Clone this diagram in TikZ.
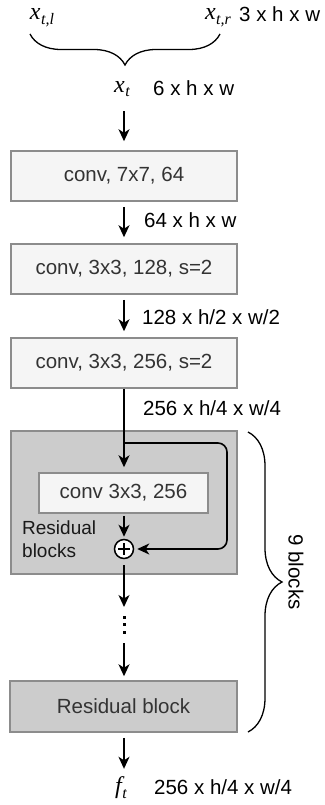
\documentclass[tikz,border=0pt]{standalone}
\usepackage{fontspec}
\setmainfont{Liberation Sans}
\newfontfamily\mathserif{Liberation Serif}
\newcommand{\mvar}[2]{{\mathserif\itshape #1\kern0.5pt\raisebox{-4.5pt}{\fontsize{16}{18}\selectfont #2}}}
\usetikzlibrary{arrows.meta,decorations.pathreplacing,calc}
\definecolor{boxline}{HTML}{8C8C8C}
\definecolor{lightfill}{HTML}{F5F5F5}
\definecolor{resfill}{HTML}{CCCCCC}
\definecolor{boxtext}{HTML}{333333}
\begin{document}
\begin{tikzpicture}[x=1pt,y=-1pt,
  every node/.style={font=\fontsize{20.5}{24}\selectfont, inner sep=0pt},
  box/.style={draw=boxline, line width=1.5pt, fill=lightfill, text=boxtext,
    minimum width=226pt, minimum height=50pt, inner sep=0pt},
  arr/.style={line width=1.6pt, -{Stealth[length=12pt,width=11pt,inset=3.5pt]}},
  lbl/.style={anchor=west, text=black},
  mth/.style={font=\fontsize{24}{26}\selectfont},
  bracedown/.style={decorate, line width=1.3pt, decoration={brace, mirror, amplitude=31pt}},
  braceright/.style={decorate, line width=1.3pt, decoration={brace, amplitude=34pt}}
]
\useasboundingbox (0,0) rectangle (324,805);

% inputs
\node[mth, anchor=base] (xl) at (42,20) {\mvar{x}{t,l}};
\node[mth, anchor=base] (xr) at (218,20) {\mvar{x}{t,r}};
\node[anchor=base west] (dim0) at (239,21.5) {3 x h x w};
\coordinate (bl) at (30,34);
\coordinate (br) at (220,34);
\draw[bracedown] (bl) -- (br);

\node[mth] (xt) at (122,89) {\mvar{x}{t}};
\node[lbl] (dim1) at (153,88) {6 x h x w};

% conv boxes
\node[box] (c1) at (124,176) {conv, 7x7, 64};
\node[box] (c2) at (124,269) {conv, 3x3, 128, s=2};
\node[box] (c3) at (124,363) {conv, 3x3, 256, s=2};
\node[lbl] (dim2) at (144,220) {64 x h x w};
\node[lbl] (dim3) at (142,317) {128 x h/2 x w/2};
\node[lbl] (dim4) at (143,408) {256 x h/4 x w/4};

% residual block
\node[box, fill=resfill, minimum height=143pt] (res) at (124,502.5) {};
\node[box, minimum width=169pt, minimum height=40pt] (inner) at (123.5,493) {conv 3x3, 256};
\node[circle, draw, line width=1.5pt, fill=white, minimum size=19pt] (plus) at (124,549) {};
\draw[line width=1.5pt] ($(plus.center)+(-6,0)$) -- ($(plus.center)+(6,0)$);
\draw[line width=1.5pt] ($(plus.center)+(0,-6)$) -- ($(plus.center)+(0,6)$);
\node[anchor=north west, align=left, text=black!90, font=\fontsize{19}{23}\selectfont] (rl) at (22,521) {Residual\\blocks};

% dots
\foreach \yy in {617,624.5,632} \fill (122.5,\yy-1.5) rectangle ++(3,3);
\coordinate (dtop) at (124,607);
\coordinate (dbot) at (124,643);

\node[box, fill=resfill, minimum width=227pt, minimum height=51pt] (rb) at (123.5,706.5) {Residual block};
\node[mth] (ft) at (121,788) {\mvar{f}{t}};
\node[lbl] (dim5) at (154,787) {256 x h/4 x w/4};

% right brace
\coordinate (rbt) at (248,432);
\coordinate (rbb) at (248,732);
\draw[braceright] (rbt) -- (rbb);
\node[rotate=-90] (nb) at (296,572) {9 blocks};

% arrows
\draw[arr, shorten <=14pt, shorten >=9pt] (xt.south -| c1.north) -- (c1.north);
\draw[arr, shorten <=5pt, shorten >=6pt] (c1.south) -- (c2.north);
\draw[arr, shorten <=5pt, shorten >=6pt] (c2.south) -- (c3.north);
\draw[arr, shorten >=5pt] (c3.south) -- (inner.north -| c3.south);
\coordinate (sk) at (124,443);
\coordinate (skr) at (227,443);
\draw[arr, rounded corners=9pt, shorten >=3pt] (sk) -- (skr) |- (plus.east);
\draw[arr, shorten <=2pt, shorten >=2pt] (inner.south -| plus.north) -- (plus.north);
\draw[arr, shorten <=6pt] (plus.south) -- (dtop);
\draw[arr, shorten >=4pt] (dbot) -- (rb.north -| dbot);
\draw[arr, shorten <=5pt, shorten >=8pt] (rb.south -| dbot) -- (ft.north -| dbot);
\end{tikzpicture}
\end{document}
